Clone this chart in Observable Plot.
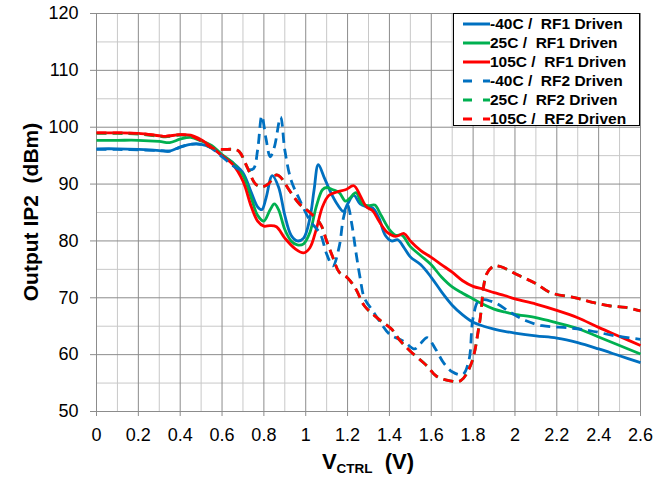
<!DOCTYPE html>
<html><head><meta charset="utf-8">
<script src="https://cdn.jsdelivr.net/npm/d3@7"></script>
<script src="https://cdn.jsdelivr.net/npm/@observablehq/plot@0.6"></script>
<style>
body{margin:0;background:#fff;font-family:"Liberation Sans",Arial,sans-serif;}
#wrap{position:relative;width:672px;height:477px;}
#legend{position:absolute;left:453px;top:13px;width:187px;height:113px;border:1px solid #000;background:#fff;box-sizing:border-box;}
.row{position:absolute;left:0;height:19px;display:flex;align-items:center;font-weight:bold;font-size:15.5px;white-space:pre;color:#000;}
.row svg{margin-left:9px;margin-right:0px;}
#xt{position:absolute;left:0;width:736px;top:451px;height:22px;line-height:22px;text-align:center;font-weight:bold;font-size:22px;white-space:pre;}
#xt sub{font-size:13.5px;line-height:0;vertical-align:-4px;}
#yt{position:absolute;left:31px;top:212px;transform:translate(-50%,-50%) rotate(-90deg);font-weight:bold;font-size:21px;white-space:pre;}
</style></head>
<body><div id="wrap"></div>
<script>
const xTicks = [0,0.2,0.4,0.6,0.8,1,1.2,1.4,1.6,1.8,2,2.2,2.4,2.6];
const xMinor = [0.1,0.3,0.5,0.7,0.9,1.1,1.3,1.5,1.7,1.9,2.1,2.3,2.5];
const yTicks = [50,60,70,80,90,100,110,120];
const yMinor = [55,65,75,85,95,105,115];

const seriesNames = ["-40C /  RF1 Driven","25C /  RF1 Driven","105C /  RF1 Driven","-40C /  RF2 Driven","25C /  RF2 Driven","105C /  RF2 Driven"];
const seriesColors = ["#0070C0","#00B050","#FF0000","#0070C0","#00B050","#FF0000"];
const seriesDashed = [false,false,false,true,true,true];

const m40rf1 = [[0,96.2],[0.1,96.2],[0.2,96.1],[0.3,95.9],[0.35,95.8],[0.4,96.5],[0.45,97.0],[0.5,97.0],[0.55,96.4],[0.6,95.0],[0.65,93.8],[0.7,92.0],[0.74,88.5],[0.77,86.0],[0.79,85.5],[0.81,87.5],[0.84,91.5],[0.87,89.5],[0.9,84.5],[0.93,81],[0.96,80],[0.99,80.5],[1.02,84],[1.04,89],[1.06,93.4],[1.09,91],[1.12,88.5],[1.15,86.5],[1.18,85.2],[1.2,86.5],[1.23,88],[1.26,86.5],[1.29,86],[1.32,85.8],[1.35,84],[1.38,81],[1.41,80],[1.44,80.2],[1.47,78.8],[1.5,77.2],[1.55,75.8],[1.6,73.6],[1.65,71],[1.7,68.7],[1.75,67],[1.8,65.7],[1.85,65],[1.9,64.5],[1.95,64.1],[2,63.8],[2.1,63.3],[2.2,62.9],[2.3,62.1],[2.4,61.0],[2.5,59.8],[2.6,58.6]];
const p25rf1 = [[0,97.7],[0.1,97.7],[0.2,97.7],[0.3,97.5],[0.35,97.3],[0.4,97.9],[0.45,98.2],[0.5,97.6],[0.55,96.8],[0.6,95.2],[0.65,93.8],[0.7,91.5],[0.74,87.5],[0.77,84.5],[0.8,83.5],[0.83,85.5],[0.85,86.5],[0.87,85.5],[0.9,82],[0.93,80],[0.96,79.3],[0.99,79.5],[1.02,81.5],[1.05,86],[1.08,89],[1.1,89.4],[1.13,89],[1.16,88.5],[1.19,87],[1.21,87.5],[1.24,88.5],[1.27,86.5],[1.3,86.2],[1.33,86.3],[1.36,84.5],[1.4,82],[1.43,81],[1.46,81],[1.5,79],[1.55,77.4],[1.6,75.8],[1.65,73.6],[1.7,71.9],[1.75,70.8],[1.8,69.8],[1.85,68.8],[1.9,68.0],[1.95,67.5],[2,67.1],[2.1,66.5],[2.2,65.6],[2.3,64.6],[2.4,63.1],[2.5,61.6],[2.6,60.1]];
const p105rf1 = [[0,99.0],[0.1,99.0],[0.2,98.9],[0.3,98.5],[0.33,98.4],[0.4,98.7],[0.45,98.6],[0.5,97.8],[0.55,96.5],[0.6,95.0],[0.65,93.5],[0.7,90.5],[0.74,86],[0.77,83.5],[0.8,82.6],[0.83,82.7],[0.86,82.5],[0.9,80.5],[0.95,78.6],[0.99,77.9],[1.02,78.8],[1.05,82],[1.08,86],[1.11,88],[1.15,88.6],[1.19,89],[1.23,89.7],[1.26,88],[1.29,86],[1.32,85.3],[1.35,83.5],[1.39,81.5],[1.43,80.8],[1.47,81.3],[1.5,80],[1.55,78.3],[1.6,77.1],[1.65,75.8],[1.7,74.5],[1.75,73],[1.8,72.0],[1.85,71.5],[1.9,70.9],[1.95,70.4],[2,69.8],[2.1,68.9],[2.2,67.8],[2.3,66.5],[2.4,64.8],[2.5,63.2],[2.6,61.6]];
const m40rf2 = [[0,96.1],[0.1,96.1],[0.2,96.0],[0.3,95.9],[0.35,95.8],[0.4,96.5],[0.45,97.0],[0.5,97.0],[0.55,96.3],[0.6,94.8],[0.65,93.3],[0.68,92.6],[0.72,92.5],[0.75,92.7],[0.77,96],[0.79,102],[0.81,98],[0.83,94.8],[0.85,96.5],[0.88,101.8],[0.9,96],[0.93,90.7],[0.97,87.3],[1.02,83.6],[1.07,81.2],[1.1,77.7],[1.13,75.6],[1.16,79],[1.18,84],[1.2,86.3],[1.22,83],[1.24,78],[1.26,73.5],[1.28,70],[1.32,67.7],[1.36,65.5],[1.4,63.6],[1.47,62.3],[1.52,61.0],[1.55,62],[1.58,63.0],[1.62,61],[1.66,58.5],[1.7,57.0],[1.75,56.5],[1.78,59],[1.8,66.5],[1.83,69.6],[1.9,69.2],[1.98,67.4],[2.05,66],[2.13,65.1],[2.26,64.7],[2.36,64.2],[2.48,63.3],[2.6,62.7]];
const p25rf2 = [[0,98.9],[0.1,98.9],[0.2,98.8],[0.3,98.4],[0.33,98.3],[0.4,98.6],[0.45,98.4],[0.5,97.6],[0.55,96.4],[0.6,96.1],[0.65,96.1],[0.68,95.8],[0.72,93],[0.76,90],[0.79,89.5],[0.82,90],[0.86,91.6],[0.88,91.2],[0.92,89],[0.97,86.5],[1.02,85],[1.07,83],[1.1,80],[1.13,77.1],[1.16,74.5],[1.2,73.5],[1.24,71.5],[1.28,68.6],[1.35,66.2],[1.41,64.5],[1.45,62.5],[1.5,60.6],[1.58,58.0],[1.625,56.2],[1.69,55.4],[1.74,55.4],[1.79,58.3],[1.83,65.4],[1.865,74.2],[1.9,75.6],[1.93,75.5],[2.02,73.9],[2.1,72.5],[2.17,70.9],[2.29,70.0],[2.37,69.2],[2.45,68.6],[2.53,68.3],[2.6,67.7]];
const p105rf2 = [[0,99.0],[0.1,99.0],[0.2,98.9],[0.3,98.5],[0.33,98.4],[0.4,98.7],[0.45,98.5],[0.5,97.6],[0.55,96.4],[0.6,96.1],[0.65,96.1],[0.68,95.8],[0.72,93],[0.76,90],[0.79,89.5],[0.82,90],[0.86,91.6],[0.88,91.2],[0.92,89],[0.97,86.5],[1.02,85],[1.07,83],[1.1,80],[1.13,77.1],[1.16,74.5],[1.2,73.5],[1.24,71.5],[1.28,68.6],[1.35,66.2],[1.41,64.5],[1.45,62.5],[1.5,60.6],[1.58,58.0],[1.625,56.2],[1.69,55.4],[1.74,55.4],[1.79,58.3],[1.83,65.4],[1.865,74.2],[1.9,75.6],[1.93,75.5],[2.02,73.9],[2.1,72.5],[2.17,70.9],[2.29,70.0],[2.37,69.2],[2.45,68.6],[2.53,68.3],[2.6,67.7]];

const seriesValues = [m40rf1,p25rf1,p105rf1,m40rf2,p25rf2,p105rf2];

const lineMarks = seriesValues.map((pts,i) => Plot.line(pts.map(([x,y])=>({x,y})), {
  x:"x", y:"y", stroke: seriesColors[i], strokeWidth: 2.8,
  strokeDasharray: seriesDashed[i] ? "10,6" : null,
  curve: "catmull-rom", strokeLinejoin:"round", strokeLinecap:"butt"
}));

const chart = Plot.plot({
  width: 672, height: 477,
  marginLeft: 96, marginRight: 32, marginTop: 13, marginBottom: 66,
  style: {fontFamily: "'Liberation Sans', Arial, sans-serif", fontSize: "18px", color: "#000", background: "#fff"},
  x: {domain: [0, 2.6]},
  y: {domain: [50, 120]},
  marks: [
    Plot.ruleX(xMinor, {stroke: "#c8c8c8", strokeWidth: 1}),
    Plot.ruleY(yMinor, {stroke: "#c8c8c8", strokeWidth: 1}),
    Plot.ruleX(xTicks, {stroke: "#8c8c8c", strokeWidth: 1}),
    Plot.ruleY(yTicks, {stroke: "#8c8c8c", strokeWidth: 1}),
    Plot.axisX({ticks: xTicks, tickFormat: d => String(d), tickSize: 5, tickPadding: 12, stroke: "#8c8c8c", label: null, fontSize: 18}),
    Plot.axisY({ticks: yTicks, tickFormat: d => String(d), tickSize: 6, tickPadding: 12, stroke: "#8c8c8c", label: null, fontSize: 18}),
    ...lineMarks
  ]
});
const wrap = document.getElementById("wrap");
wrap.appendChild(chart);

// legend
const leg = document.createElement("div");
leg.id = "legend";
seriesNames.forEach((name,i) => {
  const row = document.createElement("div");
  row.className = "row";
  row.style.top = (0.5 + i*19) + "px";
  const dash = seriesDashed[i] ? 'stroke-dasharray="9,11"' : '';
  row.innerHTML = `<svg width="27" height="6"><line x1="0" y1="3" x2="27" y2="3" stroke="${seriesColors[i]}" stroke-width="3" ${dash}/></svg><span>${name}</span>`;
  leg.appendChild(row);
});
wrap.appendChild(leg);

const xt = document.createElement("div");
xt.id = "xt";
xt.innerHTML = "V<sub>CTRL</sub>  (V)";
wrap.appendChild(xt);
const yt = document.createElement("div");
yt.id = "yt";
yt.textContent = "Output IP2  (dBm)";
wrap.appendChild(yt);
</script></body></html>
